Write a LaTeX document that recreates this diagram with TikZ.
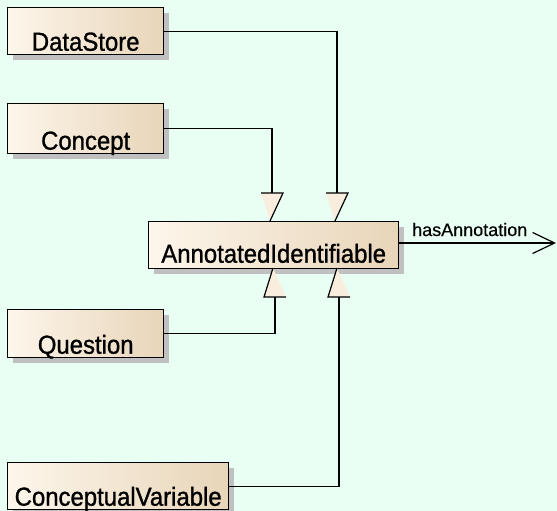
\documentclass[tikz,border=0pt]{standalone}
\usepackage{fontspec}
\setmainfont{Liberation Sans}
\newfontfamily\classfont[FakeBold=1.1,FakeStretch=0.92]{Liberation Sans}
\newfontfamily\assocfont[FakeBold=0.4]{Liberation Sans}
\usetikzlibrary{arrows.meta,shadows}
\definecolor{canvas}{RGB}{234,255,244}
\definecolor{classL}{RGB}{253,246,235}
\definecolor{classR}{RGB}{232,213,185}
\definecolor{tipfill}{RGB}{249,237,222}
\definecolor{shadowgray}{RGB}{192,192,192}

\begin{document}
\begin{tikzpicture}[x=1pt,y=-1pt,
  classbox/.style={draw=black, line width=1.4pt, rectangle, inner sep=0pt,
    anchor=north west, left color=classL, right color=classR,
    font=\classfont\fontsize{26}{26}\selectfont, text depth=4pt,
    general shadow={fill=shadowgray, shadow xshift=5pt, shadow yshift=-5pt}},
  conn/.style={draw=black, line width=1.2pt},
  genfill/.style={fill=tipfill},
  assoclabel/.style={font=\assocfont\fontsize{18}{18}\selectfont, inner sep=0pt}
]
% canvas
\fill[canvas] (0,0) rectangle (557,511);
\useasboundingbox (0,0) rectangle (557,511);

% classes
\node[classbox, minimum width=156pt, text height=43pt] (ds) at (7,7) {DataStore};
\node[classbox, minimum width=156pt, text height=46pt] (co) at (7,103) {Concept};
\node[classbox, minimum width=250pt, text height=41pt, text depth=6pt] (ai) at (148,221) {AnnotatedIdentifiable};
\node[classbox, minimum width=156pt, text height=44pt] (qu) at (7,309) {Question};
\node[classbox, minimum width=221pt, text height=43pt] (cv) at (7,462) {ConceptualVariable};

% connector ends at the generalization triangles
\coordinate (co-in) at (272,193);
\coordinate (ds-in) at (337,193);
\coordinate (qu-in) at (275,297);
\coordinate (cv-in) at (339,297);

\draw[conn] (ds.east) -| (ds-in);
\draw[conn] (co.east) -| (co-in);
\draw[conn] (qu.east) -| (qu-in);
\draw[conn] (cv.east) -| (cv-in);

% generalization triangles above the class
\foreach \c in {272,337}{
  \fill[genfill] (\c-11,193) -- (\c+11,193) -- (\c-2,221) -- cycle;
  \draw[conn] (\c-11,193) -- (\c+11,193) -- (\c-2,221);
}
% generalization triangles below the class
\foreach \c in {275,339}{
  \fill[genfill] (\c-2,268) -- (\c-11,297) -- (\c+11,297) -- cycle;
  \draw[conn] (\c-2,268) -- (\c-11,297) -- (\c+11,297);
}

% association
\coordinate (assoc-end) at (556,243);
\draw[conn, -{Straight Barb[length=22pt,width=21pt,line width=1.2pt]}] (ai.east |- assoc-end) -- (assoc-end);
\node[assoclabel, anchor=base west] (assoc-lbl) at (412,236) {hasAnnotation};
\end{tikzpicture}
\end{document}
